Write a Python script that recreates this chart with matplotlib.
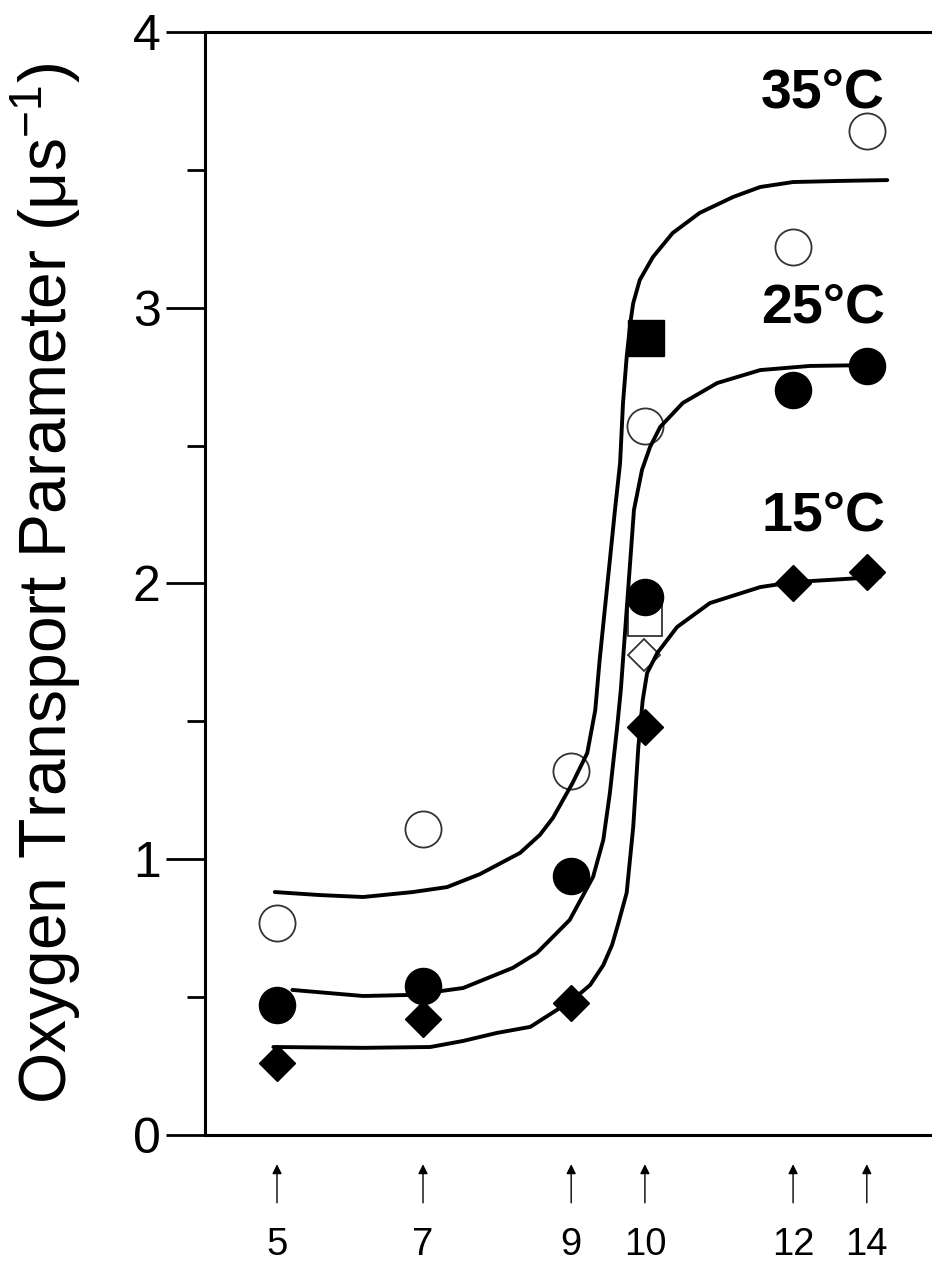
import matplotlib
matplotlib.use("Agg")
import matplotlib.pyplot as plt
from matplotlib.ticker import MultipleLocator

plt.rcParams["font.family"] = ["Liberation Sans", "DejaVu Sans"]
plt.rcParams["mathtext.fontset"] = "custom"
plt.rcParams["mathtext.rm"] = "Liberation Sans"
plt.rcParams["mathtext.it"] = "Liberation Sans:italic"

# label position -> plotting position (axis is not linear in the original)
tick_labels = ["5", "7", "9", "10", "12", "14"]
positions = [5, 7, 9.03, 10.04, 12.07, 13.08]

# measured points
open_35 = [0.77, 1.11, 1.32, 2.57, 3.22, 3.64]
filled_25 = [0.47, 0.54, 0.94, 1.95, 2.70, 2.79]
filled_15 = [0.26, 0.42, 0.48, 1.48, 2.00, 2.04]

# extra points at position 10
sq_filled_x, sq_filled_y = 10.05, 2.89
sq_open_x, sq_open_y = 10.04, 1.87
dia_open_x, dia_open_y = 10.03, 1.74

# fitted curves
fit35_x = [4.97, 5.59, 6.18, 6.86, 7.33, 7.78, 8.33, 8.60, 8.78, 9.05, 9.25, 9.36, 9.42,
           9.49, 9.56, 9.63, 9.70, 9.74, 9.79, 9.84, 9.88, 9.97, 10.15, 10.42, 10.79,
           11.25, 11.62, 12.07, 12.71, 13.36]
fit35_y = [0.881, 0.870, 0.863, 0.881, 0.899, 0.946, 1.023, 1.088, 1.150, 1.277, 1.385, 1.541, 1.723,
           1.904, 2.085, 2.267, 2.437, 2.655, 2.821, 2.945, 3.017, 3.101, 3.184, 3.271, 3.344,
           3.402, 3.438, 3.456, 3.460, 3.463]

fit25_x = [5.21, 6.18, 6.86, 7.55, 8.23, 8.56, 9.01, 9.33, 9.47, 9.56, 9.66, 9.71, 9.78,
           9.84, 9.89, 10.00, 10.11, 10.25, 10.56, 11.03, 11.62, 12.30, 13.10]
fit25_y = [0.526, 0.504, 0.508, 0.533, 0.606, 0.660, 0.780, 0.936, 1.070, 1.240, 1.480, 1.614, 1.868,
           2.085, 2.267, 2.412, 2.495, 2.568, 2.655, 2.727, 2.774, 2.789, 2.792]

fit15_x = [4.95, 6.18, 7.10, 7.55, 8.01, 8.47, 9.05, 9.29, 9.47, 9.59, 9.67, 9.79,
           9.88, 9.95, 10.01, 10.07, 10.21, 10.48, 10.93, 11.62, 12.07, 13.26]
fit15_y = [0.319, 0.316, 0.319, 0.341, 0.370, 0.392, 0.490, 0.544, 0.616, 0.689, 0.762, 0.878,
           1.117, 1.407, 1.577, 1.675, 1.748, 1.842, 1.929, 1.987, 2.005, 2.024]

temps = ["35°C", "25°C", "15°C"]
temp_y = [3.725, 2.948, 2.194]

fig = plt.figure(figsize=(9.32, 12.66), dpi=100)
ax = fig.add_axes([0.22, 0.1035, 0.78, 0.8712])

# open markers under the curves
ax.plot(positions, open_35, "o", ms=26, mfc="none", mec="#333333", mew=1.3, zorder=2)
ax.plot([sq_open_x], [sq_open_y], "s", ms=25, mfc="white", mec="#333333", mew=1.3, zorder=2)
ax.plot([dia_open_x], [dia_open_y], "D", ms=16, mfc="white", mec="#333333", mew=1.3, zorder=2)

for fx, fy in [(fit35_x, fit35_y), (fit25_x, fit25_y), (fit15_x, fit15_y)]:
    ax.plot(fx, fy, "-", color="black", lw=2.8, zorder=3,
            solid_joinstyle="round", solid_capstyle="round")

ax.plot(positions, filled_25, "o", ms=26, color="black", zorder=4)
ax.plot(positions, filled_15, "D", ms=18.5, color="black", zorder=4)
ax.plot([sq_filled_x], [sq_filled_y], "s", ms=26, color="black", zorder=4)

for t, ty in zip(temps, temp_y):
    ax.text(13.33, ty, t, ha="right", va="baseline", fontsize=40, fontweight="bold")

ax.set_xlim(4.014, 13.973)
ax.set_ylim(0, 4)
ax.spines["right"].set_visible(False)
for s in ["left", "top", "bottom"]:
    ax.spines[s].set_linewidth(2.2)

ax.yaxis.set_major_locator(MultipleLocator(1))
ax.yaxis.set_minor_locator(MultipleLocator(0.5))
ax.tick_params(axis="y", which="major", length=28, width=2.0, labelsize=36, pad=4)
ax.tick_params(axis="y", which="minor", length=13, width=2.0)

ax.set_xticks(positions)
ax.set_xticklabels(tick_labels)
ax.tick_params(axis="x", length=0, labelsize=27.5, pad=66)

for p in positions:
    ax.annotate("", xy=(p, -0.024), xytext=(p, -0.064),
                xycoords=("data", "axes fraction"), textcoords=("data", "axes fraction"),
                arrowprops=dict(arrowstyle="-|>", lw=1.0, color="black", mutation_scale=14),
                annotation_clip=False)

ax.set_ylabel("Oxygen Transport Parameter (μs$^{-1}$)", fontsize=47.5, labelpad=36)

fig.savefig("out.png", dpi=100)
